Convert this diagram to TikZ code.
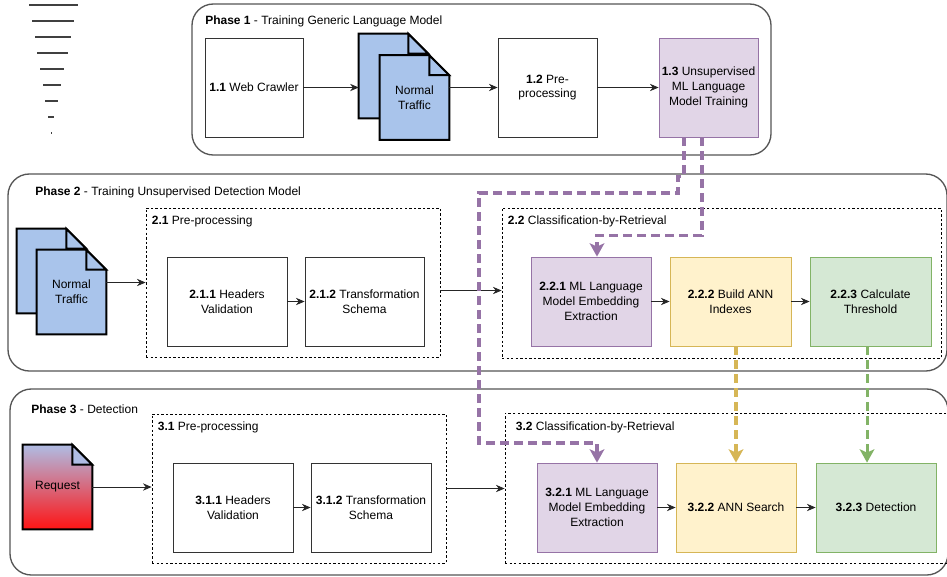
\documentclass[tikz,border=0pt]{standalone}
\usepackage{fontspec}
\setmainfont{Liberation Sans}
\usetikzlibrary{arrows.meta,backgrounds,positioning}
\definecolor{trafficblue}{HTML}{A9C4EB}
\definecolor{reqtop}{HTML}{AFBCE4}
\definecolor{reqbottom}{HTML}{FF1414}
\definecolor{mlfill}{HTML}{E1D5E7}
\definecolor{mldraw}{HTML}{9673A6}
\definecolor{annfill}{HTML}{FFF2CC}
\definecolor{anndraw}{HTML}{D6B656}
\definecolor{detfill}{HTML}{D5E8D4}
\definecolor{detdraw}{HTML}{82B366}
\definecolor{phasegray}{HTML}{555555}
\newcommand{\pxl}{0.75pt}
% folded page drawn behind a doc box node
\newcommand{\docpage}[3]{%
  \path[docline, #2] (#1.north west) -- ([xshift=-15pt]#1.north east) -- ([yshift=-15pt]#1.north east)
    -- (#1.south east) -- (#1.south west) -- cycle;
  \path[docline, fill=#3] ([xshift=-15pt]#1.north east) -- ([xshift=-15pt,yshift=-15pt]#1.north east)
    -- ([yshift=-15pt]#1.north east) -- cycle;}
\tikzset{
  scale mark/.style={draw=black!75, line width=0.8pt},
  phase frame/.style={draw=phasegray, line width=1pt, rounded corners=16pt},
  phase title/.style={anchor=base west, inner sep=0pt},
  group title/.style={anchor=base west, inner sep=0pt},
  group box/.style 2 args={draw, line width=0.6pt, dash pattern=on 1.8pt off 1.6pt,
    minimum width=#1*\pxl, minimum height=#2*\pxl, inner sep=0pt},
  step box/.style={draw=black!80, line width=0.6pt, align=center, inner sep=2pt,
    minimum width=120*\pxl, minimum height=89*\pxl},
  small step/.style={minimum width=99*\pxl, minimum height=99*\pxl},
  doc box/.style={align=center, inner sep=0pt, minimum width=69*\pxl, minimum height=84*\pxl},
  docline/.style={draw=black, line width=1.5pt},
  ml step/.style={fill=mlfill, draw=mldraw},
  ann step/.style={fill=annfill, draw=anndraw},
  det step/.style={fill=detfill, draw=detdraw},
  flow/.style={draw=black!85, line width=0.6pt, -{Stealth[length=6.5pt,width=5.5pt]}},
  model link/.style={line width=2.3pt, dash pattern=on 6.5pt off 4pt,
    -{Stealth[length=10pt,width=11pt,inset=2.5pt]}},
}
\begin{document}
\begin{tikzpicture}[x=\pxl, y=-\pxl, font=\fontsize{9}{11}\selectfont]
  \useasboundingbox (0,0) rectangle (947,576);
  \foreach \yy/\xa/\xb in {5/29/78,21/32/74,37/35/71,53/37/68,69/40/64,85/43/61,101/45/58,117/48/54,133/51/52}
    \draw[scale mark] (\xa,\yy) -- (\xb,\yy);

  % phase 1
  \draw[phase frame] (192,4) rectangle (771,155);
  \node[phase title] at (205,24) {\textbf{Phase 1} - Training Generic Language Model};
  \node[step box, minimum width=98*\pxl, minimum height=99*\pxl] (n11) at (254,87.5) {\textbf{1.1} Web Crawler};
  \node[doc box] (nt1b) at (393.5,76) {};
  \node[doc box, text depth=-4pt] (nt1) at (414.5,97.5) {Normal\\Traffic};
  \node[step box, small step] (n12) at (547.5,87.5) {\textbf{1.2} Pre-\\processing};
  \node[step box, small step, ml step] (n13) at (708.5,87.5) {\textbf{1.3} Unsupervised\\ML Language\\Model Training};

  % phase 2
  \draw[phase frame] (8,174) rectangle (947,371);
  \node[phase title] at (35,195) {\textbf{Phase 2} - Training Unsupervised Detection Model};
  \node[doc box] (nt2b) at (51.5,271) {};
  \node[doc box] (nt2) at (71.5,292) {Normal\\Traffic};
  \node[group box={294}{149}] (d21) at (293,282.5) {};
  \node[group title] at ([shift={(6,17)}]d21.north west) {\textbf{2.1} Pre-processing};
  \node[step box] (n211) at (227,301.5) {\textbf{2.1.1} Headers\\Validation};
  \node[step box, minimum width=119*\pxl] (n212) at (364.5,301.5) {\textbf{2.1.2} Transformation\\Schema};
  \node[group box={439}{150}] (d22) at (721.5,283) {};
  \node[group title] at ([shift={(6,17)}]d22.north west) {\textbf{2.2} Classification-by-Retrieval};
  \node[step box, ml step] (n221) at (591,301.5) {\textbf{2.2.1} ML Language\\Model Embedding\\Extraction};
  \node[step box, ann step, minimum width=121*\pxl] (n222) at (730.5,301.5) {\textbf{2.2.2} Build ANN\\Indexes};
  \node[step box, det step, minimum width=121*\pxl] (n223) at (870.5,301.5) {\textbf{2.2.3} Calculate\\Threshold};

  % phase 3
  \draw[phase frame] (10,389) rectangle (948,575);
  \node[phase title] at (31,413) {\textbf{Phase 3} - Detection};
  \node[doc box] (req) at (57.5,487) {Request};
  \node[group box={294}{149}] (d31) at (299,488.5) {};
  \node[group title] at ([shift={(6,17)}]d31.north west) {\textbf{3.1} Pre-processing};
  \node[step box] (n311) at (233,507.5) {\textbf{3.1.1} Headers\\Validation};
  \node[step box] (n312) at (371,507.5) {\textbf{3.1.2} Transformation\\Schema};
  \node[group box={447}{150}] (d32) at (728.5,488) {};
  \node[group title] at ([shift={(11,18)}]d32.north west) {\textbf{3.2} Classification-by-Retrieval};
  \node[step box, ml step] (n321) at (597,507.5) {\textbf{3.2.1} ML Language\\Model Embedding\\Extraction};
  \node[step box, ann step] (n322) at (736,507.5) {\textbf{3.2.2} ANN Search};
  \node[step box, det step] (n323) at (876,507.5) {\textbf{3.2.3} Detection};

  \begin{scope}[on background layer]
    \docpage{nt1b}{fill=trafficblue}{trafficblue}
    \docpage{nt1}{fill=trafficblue}{trafficblue}
    \docpage{nt2b}{fill=trafficblue}{trafficblue}
    \docpage{nt2}{fill=trafficblue}{trafficblue}
    \docpage{req}{top color=reqtop, bottom color=reqbottom}{reqtop}
  \end{scope}

  \draw[flow] (n11.east) -- (n11.east -| nt1b.west);
  \draw[flow] (nt1.east |- n12.west) -- (n12.west);
  \draw[flow] (n12) -- (n13);
  \draw[flow] (nt2.east |- d21.west) -- (d21.west);
  \draw[flow] (n211) -- (n212);
  \draw[flow] ([yshift=-6pt]d21.east) -- ([yshift=-6pt]d21.east -| d22.west);
  \draw[flow] (n221) -- (n222);
  \draw[flow] (n222) -- (n223);
  \draw[flow] (req.east) -- (req.east -| d31.west);
  \draw[flow] (n311) -- (n312);
  \draw[flow] (d31.east) -- (d31.east -| d32.west);
  \draw[flow] (n321) -- (n322);
  \draw[flow] (n322) -- (n323);

  % model and index hand-over
  \coordinate (bendA) at (479,193);
  \coordinate (bendB) at (479,443);
  \draw[model link, draw=mldraw] ([xshift=-18.4pt]n13.south) -- ++(0,39) -- ++(-6,0) |- (bendA) -- (bendB) -| (n321.north);
  \draw[model link, draw=mldraw] ([xshift=-4.9pt]n13.south) -- ++(0,98) -| ([xshift=4.5pt]n221.north);
  \draw[model link, draw=anndraw] (n322.north |- n222.south) -- (n322.north);
  \draw[model link, draw=detdraw] ([xshift=-2.6pt]n223.south) -- ([xshift=-2.6pt]n223.south |- n323.north);
\end{tikzpicture}
\end{document}
